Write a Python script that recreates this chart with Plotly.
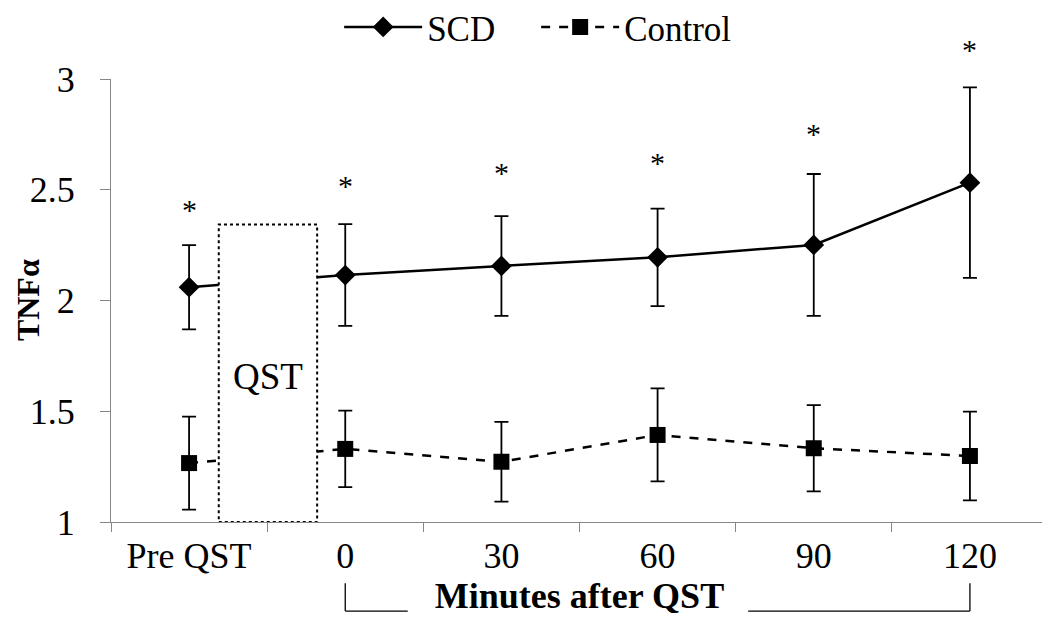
import plotly.graph_objects as go

# ── Data ────────────────────────────────────────────────────────────────────
categories = ["Pre QST", "0", "30", "60", "90", "120"]

scd_mean = [2.06, 2.115, 2.156, 2.195, 2.251, 2.532]
scd_err = [0.19, 0.23, 0.225, 0.22, 0.32, 0.43]

control_mean = [1.266, 1.33, 1.272, 1.393, 1.333, 1.298]
control_err = [0.21, 0.173, 0.18, 0.21, 0.195, 0.2]

# significance asterisks above SCD (y level of each "*")
star_y = [2.418, 2.53, 2.589, 2.63, 2.765, 3.14]

y_ticks = [1, 1.5, 2, 2.5, 3]

# QST box: spans between "Pre QST" and "0" up to this level
qst_box_top = 2.343

FONT = "Liberation Serif, Times New Roman, serif"
AXIS_GREY = "#868686"

fig = go.Figure()

fig.add_trace(go.Scatter(
    x=categories, y=scd_mean, name="SCD",
    mode="lines+markers",
    line=dict(color="black", width=2.5),
    marker=dict(symbol="diamond", size=16, color="black"),
    error_y=dict(type="data", array=scd_err, visible=True,
                 color="black", thickness=1.8, width=7),
))

fig.add_trace(go.Scatter(
    x=categories, y=control_mean, name="Control",
    mode="lines+markers",
    line=dict(color="black", width=2.5, dash="dash"),
    marker=dict(symbol="square", size=16, color="black"),
    error_y=dict(type="data", array=control_err, visible=True,
                 color="black", thickness=1.8, width=7),
))

# ── Asterisks ──────────────────────────────────────────────────────────────
# y-domain refs so the last one can sit above the top of the axis range
y_lo, y_hi = y_ticks[0], y_ticks[-1]
for i, sy in enumerate(star_y):
    fig.add_annotation(
        x=i, xref="x", y=(sy - y_lo) / (y_hi - y_lo), yref="y domain",
        text="*", showarrow=False, yanchor="middle", yshift=-2,
        font=dict(family=FONT, size=30, color="black"),
    )

# ── QST box (covers the lines between Pre QST and 0) ───────────────────────
fig.add_shape(
    type="rect", xref="x", yref="y",
    x0=0.19, x1=0.82, y0=y_ticks[0], y1=qst_box_top,
    fillcolor="white", line=dict(color="black", width=2, dash="dot"),
    layer="above",
)
fig.add_annotation(
    x=0.505, y=1.655, xref="x", yref="y", text="QST", showarrow=False,
    font=dict(family=FONT, size=37, color="black"),
)

# ── "Minutes after QST" bracket ────────────────────────────────────────────
for x0, y0, x1, y1 in [
    (1, -0.138, 1, -0.201),
    (1, -0.201, 1.40, -0.201),
    (3.58, -0.201, 5, -0.201),
    (5, -0.201, 5, -0.138),
]:
    fig.add_shape(type="line", xref="x", yref="paper",
                  x0=x0, y0=y0, x1=x1, y1=y1,
                  line=dict(color="black", width=1.3))

# y title as annotation (placed close to the axis like the original)
fig.add_annotation(
    x=-0.089, y=0.5, xref="paper", yref="paper", text="<b>TNFα</b>",
    textangle=-90, showarrow=False, xanchor="center", yanchor="middle",
    font=dict(family=FONT, size=32, color="black"),
)

# ── Layout ─────────────────────────────────────────────────────────────────
# the page adds an 8px body margin, so margins are shifted to compensate
fig.update_layout(
    width=1050, height=619,
    margin=dict(l=103, r=10, t=71, b=105, autoexpand=False),
    plot_bgcolor="white", paper_bgcolor="white",
    font=dict(family=FONT, size=36, color="black"),
    showlegend=True,
    legend=dict(orientation="h", xref="container", yref="container",
                x=0.503, y=0.969, xanchor="center", yanchor="middle",
                font=dict(family=FONT, size=35), itemwidth=78,
                entrywidth=104, bgcolor="rgba(0,0,0,0)"),
)
fig.update_xaxes(
    type="category", range=[-0.5, 5.5], automargin=False,
    showline=True, linecolor=AXIS_GREY, linewidth=1.3,
    ticks="outside", tickson="boundaries", ticklen=9, tickcolor=AXIS_GREY,
    showgrid=False, zeroline=False, ticklabelstandoff=2,
    title=dict(text="<b>Minutes after QST</b>", standoff=5,
               font=dict(family=FONT, size=36)),
)
fig.update_yaxes(
    range=[y_lo, y_hi], tickvals=y_ticks,
    ticktext=["1", "1.5", "2", "2.5", "3"], automargin=False,
    showline=True, linecolor=AXIS_GREY, linewidth=1.3,
    ticks="outside", ticklen=10, tickcolor=AXIS_GREY,
    showgrid=False, zeroline=False, ticklabelstandoff=18,
)

fig.write_html("out.html")
